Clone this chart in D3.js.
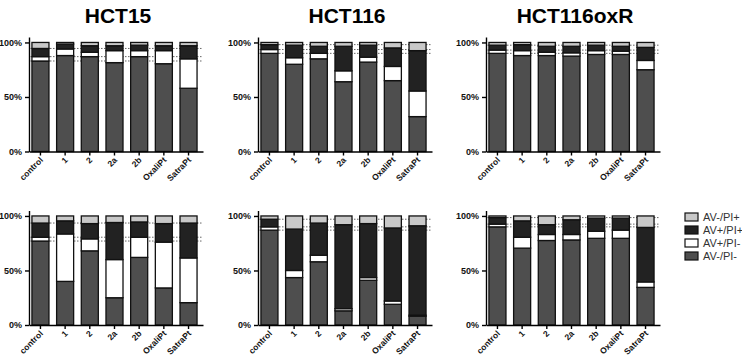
<!DOCTYPE html>
<html>
<head>
<meta charset="utf-8">
<script src="https://cdn.jsdelivr.net/npm/d3@7"></script>
<style>
	body { margin: 0; background: #fff; }
	svg { font-family: "Liberation Sans", Arial, sans-serif; }
</style>
</head>
<body>
<script>
'use strict';

// Bar categories (treatments) and stacked series
var categories = ["control", "1", "2", "2a", "2b", "OxaliPt", "SatraPt"];
var seriesNames = ["AV-/PI-", "AV+/PI-", "AV+/PI+", "AV-/PI+"];
var seriesColors = ["#4e4e4e", "#ffffff", "#222222", "#c8c8c8"];
var cellLines = ["HCT15", "HCT116", "HCT116oxR"];
var yTickValues = [0, 50, 100];

// percent of cells, one row per series: AV-/PI-, AV+/PI-, AV+/PI+, AV-/PI+
var hct15Top = [
	[83, 88, 87, 81.5, 87, 80.5, 58],
	[4, 6, 4, 11, 5.5, 12, 27],
	[7.5, 4.5, 6, 4.5, 5, 4.5, 12],
	[5.5, 1.5, 3, 3, 2.5, 3, 3]
];
var hct116Top = [
	[90, 80, 85, 64, 82, 65, 32],
	[3.5, 6, 5, 10, 4.5, 13, 23.5],
	[4.5, 11.5, 6.5, 22.5, 11, 17, 37],
	[2, 2.5, 3.5, 3.5, 2.5, 5, 7.5]
];
var hct116oxRTop = [
	[90, 88, 88, 87.5, 89, 89, 75],
	[3, 4.5, 3, 3, 3.5, 3, 8.5],
	[4.5, 5.5, 5.5, 6, 5, 4.5, 12],
	[2.5, 2, 3.5, 3.5, 2.5, 3.5, 4.5]
];
var hct15Bottom = [
	[77, 40, 68, 25, 62, 34, 20.5],
	[3.5, 43.5, 11, 35, 18.5, 42, 41],
	[13, 12, 14, 34, 14, 17, 32],
	[6.5, 4.5, 7, 6, 5.5, 7, 6.5]
];
var hct116Bottom = [
	[87, 43.5, 58, 13, 41, 19, 8],
	[3, 6.5, 6, 2, 2.5, 3, 1],
	[7, 38, 29.5, 77, 49.5, 67, 82],
	[3, 12, 6.5, 8, 7, 11, 9]
];
var hct116oxRBottom = [
	[90, 70.5, 77.5, 78, 79.5, 79.5, 34.5],
	[2.5, 10, 5.5, 5, 6.5, 7.5, 5],
	[6, 15, 9, 13.5, 12, 11, 50],
	[1.5, 4.5, 8, 3.5, 2, 2, 10.5]
];

var width = 742;
var height = 357;

var panelLeft = [29, 258, 486];     // y axis position of each column
var rowBase = [151.5, 325];         // 0% line of each row
var plotH = 114.5;                  // height of 0..105%
var plotW = 174;

var panels = [
	{ col: 0, row: 0, values: hct15Top },
	{ col: 1, row: 0, values: hct116Top },
	{ col: 2, row: 0, values: hct116oxRTop },
	{ col: 0, row: 1, values: hct15Bottom },
	{ col: 1, row: 1, values: hct116Bottom },
	{ col: 2, row: 1, values: hct116oxRBottom }
];

var svg = d3.select("body")
	.append("svg")
	.attr("width", width)
	.attr("height", height);

// Column titles
svg.selectAll("text.title")
	.data(cellLines)
	.enter()
	.append("text")
	.attr("class", "title")
	.attr("x", function (d, i) { return panelLeft[i] + 89; })
	.attr("y", 23)
	.attr("text-anchor", "middle")
	.style("font-size", "21px")
	.style("font-weight", "bold")
	.text(function (d) { return d; });

var stack = d3.stack().keys([0, 1, 2, 3]);

panels.forEach(function (p) {
	// turn series rows into one record per bar
	var rows = categories.map(function (c, i) {
		return { cat: c, 0: p.values[0][i], 1: p.values[1][i], 2: p.values[2][i], 3: p.values[3][i] };
	});
	var layers = stack(rows);

	var x = d3.scaleBand()
		.domain(categories)
		.range([0, plotW])
		.paddingInner(0.31)
		.paddingOuter(0.18)
		.align(0.33);

	var y = d3.scaleLinear()
		.domain([0, 105])
		.range([rowBase[p.row], rowBase[p.row] - plotH]);

	var g = svg.append("g")
		.attr("transform", "translate(" + panelLeft[p.col] + ",0)");

	// dotted guide lines at the control bar's segment edges
	var controlEdges = layers.slice(0, 3).map(function (l) { return l[0][1]; });
	g.selectAll("line.guide")
		.data(controlEdges)
		.enter()
		.append("line")
		.attr("class", "guide")
		.attr("x1", 0)
		.attr("x2", plotW)
		.attr("y1", function (d) { return y(d); })
		.attr("y2", function (d) { return y(d); })
		.style("stroke", "#666")
		.style("stroke-width", 1)
		.style("stroke-dasharray", "1.5,1.5");

	// stacked bars
	g.selectAll("g.layer")
		.data(layers)
		.enter()
		.append("g")
		.attr("class", "layer")
		.style("fill", function (d) { return seriesColors[d.key]; })
		.selectAll("rect")
		.data(function (d) { return d; })
		.enter()
		.append("rect")
		.attr("x", function (d) { return x(d.data.cat); })
		.attr("width", x.bandwidth())
		.attr("y", function (d) { return y(d[1]); })
		.attr("height", function (d) { return y(d[0]) - y(d[1]); })
		.style("stroke", "#111")
		.style("stroke-width", 1.3);

	// y axis
	var yAxis = g.append("g")
		.call(d3.axisLeft(y).tickValues(yTickValues).tickSize(4).tickSizeOuter(0)
			.tickFormat(function (d) { return d + "%"; }));
	yAxis.selectAll("text")
		.style("font-size", "9px")
		.style("font-weight", "bold")
		.style("fill", "#111");

	// x axis, labels slanted
	var xAxis = g.append("g")
		.attr("transform", "translate(0," + rowBase[p.row] + ")")
		.call(d3.axisBottom(x).tickSize(4).tickSizeOuter(0));
	xAxis.selectAll("text")
		.attr("x", 0)
		.attr("y", 0)
		.attr("dy", "0.35em")
		.attr("transform", "translate(1,7) rotate(-45)")
		.attr("text-anchor", "end")
		.style("font-size", "8.5px")
		.style("font-weight", "bold")
		.style("fill", "#111");

	svg.selectAll(".domain, .tick line")
		.style("stroke", "#000")
		.style("stroke-width", 1.4);
});

// Legend
var legendOrder = [3, 2, 1, 0];
var legendY = [217, 230, 243, 256];
var legend = svg.append("g")
	.selectAll("g")
	.data(legendOrder)
	.enter()
	.append("g")
	.attr("transform", function (d, i) { return "translate(685," + legendY[i] + ")"; });

legend.append("rect")
	.attr("y", -4)
	.attr("width", 13)
	.attr("height", 8)
	.style("fill", function (d) { return seriesColors[d]; })
	.style("stroke", "#111")
	.style("stroke-width", 1.2);

legend.append("text")
	.attr("x", 18)
	.attr("dy", "0.35em")
	.style("font-size", "11px")
	.style("fill", "#333")
	.text(function (d) { return seriesNames[d]; });
</script>
</body>
</html>
